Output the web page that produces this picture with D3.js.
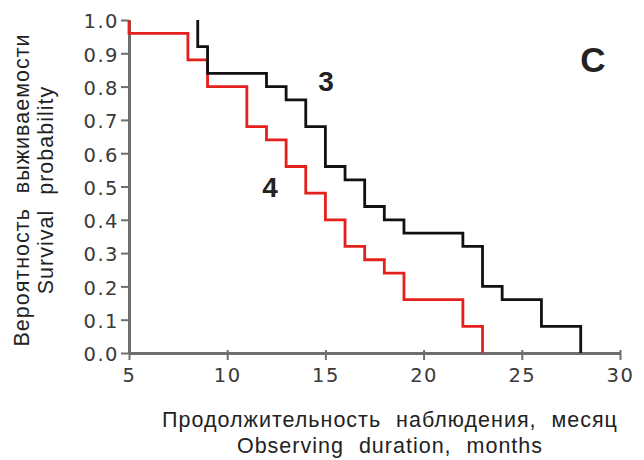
<!DOCTYPE html>
<html>
<head>
<meta charset="utf-8">
<script src="https://cdnjs.cloudflare.com/ajax/libs/d3/7.8.5/d3.min.js"></script>
<style>
  body { margin: 0; background: #fff; }
  svg text { font-family: "Liberation Sans", Arial, sans-serif; }
</style>
</head>
<body>
<div id="chart"></div>
<script>
// group 3 (black): event times and survival after each drop
var times3 = [8.5, 9, 12, 13, 14, 15, 16, 17, 18, 19, 22, 23, 24, 26, 28];
var surv3  = [0.92, 0.84, 0.80, 0.76, 0.68, 0.56, 0.52, 0.44, 0.40, 0.36, 0.32, 0.20, 0.16, 0.08, 0.0];
// group 4 (red)
var times4 = [5, 8, 9, 11, 12, 13, 14, 15, 16, 17, 18, 19, 22, 23];
var surv4  = [0.96, 0.88, 0.80, 0.68, 0.64, 0.56, 0.48, 0.40, 0.32, 0.28, 0.24, 0.16, 0.08, 0.0];

var xTicks = [5, 10, 15, 20, 25, 30];
var yTicks = [0, 0.1, 0.2, 0.3, 0.4, 0.5, 0.6, 0.7, 0.8, 0.9, 1.0];

var W = 644, H = 460;
var margin = {top: 20, right: 24, bottom: 107, left: 129};

var svg = d3.select("#chart").append("svg")
  .attr("width", W).attr("height", H);

var x = d3.scaleLinear().domain([5, 30]).range([margin.left, W - margin.right]);
var y = d3.scaleLinear().domain([0, 1]).range([H - margin.bottom, margin.top]);

// turn event lists into a step path that starts at 1.0
function steps(times, surv) {
  var pts = [[times[0], 1.0]];
  for (var i = 0; i < times.length; i++) {
    pts.push([times[i], i === 0 ? 1.0 : surv[i - 1]]);
    pts.push([times[i], surv[i]]);
  }
  return pts;
}

var line = d3.line()
  .x(function(d) { return x(d[0]); })
  .y(function(d) { return y(d[1]); });

// axes
var axisColor = "#6e6e6e";
var gx = svg.append("g")
  .attr("transform", "translate(0," + y(0) + ")")
  .call(d3.axisBottom(x).tickValues(xTicks).tickSize(7).tickSizeOuter(0).tickFormat(d3.format("d")));
var gy = svg.append("g")
  .attr("transform", "translate(" + x(5) + ",0)")
  .call(d3.axisLeft(y).tickValues(yTicks).tickSize(8).tickSizeOuter(0).tickFormat(d3.format(".1f")));

[gx, gy].forEach(function(g) {
  g.select(".domain").attr("stroke", axisColor).attr("stroke-width", 3);
  g.selectAll(".tick line").attr("stroke", axisColor).attr("stroke-width", 2);
  g.selectAll(".tick text").attr("fill", "#3a3a3a")
    .style("font-family", "'DejaVu Sans', Verdana, sans-serif")
    .style("font-size", "19.5px").style("letter-spacing", "1.5px");
});
gx.selectAll(".tick line").attr("y1", -3);
gx.selectAll(".tick text").attr("dy", "0.95em");
gy.selectAll(".tick text").attr("x", -10).attr("dy", "0.4em");

// curves
svg.append("path")
  .attr("d", line(steps(times4, surv4)))
  .attr("fill", "none").attr("stroke", "#e3201c").attr("stroke-width", 2.8);
svg.append("path")
  .attr("d", line(steps(times3, surv3)))
  .attr("fill", "none").attr("stroke", "#111").attr("stroke-width", 2.8);

// curve labels
svg.append("text").attr("x", 326).attr("y", 91).attr("text-anchor", "middle")
  .style("font-size", "28px").style("font-weight", "bold").attr("fill", "#222").text("3");
svg.append("text").attr("x", 270).attr("y", 197).attr("text-anchor", "middle")
  .style("font-size", "28px").style("font-weight", "bold").attr("fill", "#222").text("4");
svg.append("text").attr("x", 593).attr("y", 72).attr("text-anchor", "middle")
  .style("font-size", "35px").style("font-weight", "bold").attr("fill", "#222").text("C");

// axis titles
var titleStyle = function(t) {
  t.attr("text-anchor", "middle").style("font-size", "21.5px")
   .style("letter-spacing", "1px").style("word-spacing", "8px").attr("fill", "#222");
};
var yt = svg.append("text")
  .attr("transform", "translate(29,190) rotate(-90)").call(titleStyle);
yt.append("tspan").attr("x", 0).attr("dy", 0).text("Вероятность выживаемости");
yt.append("tspan").attr("x", 0).attr("dy", 24).text("Survival probability");

var xt = svg.append("text").call(titleStyle);
xt.append("tspan").attr("x", 390).attr("y", 427).text("Продолжительность наблюдения, месяц");
xt.append("tspan").attr("x", 390).attr("y", 453).text("Observing duration, months");
</script>
</body>
</html>
